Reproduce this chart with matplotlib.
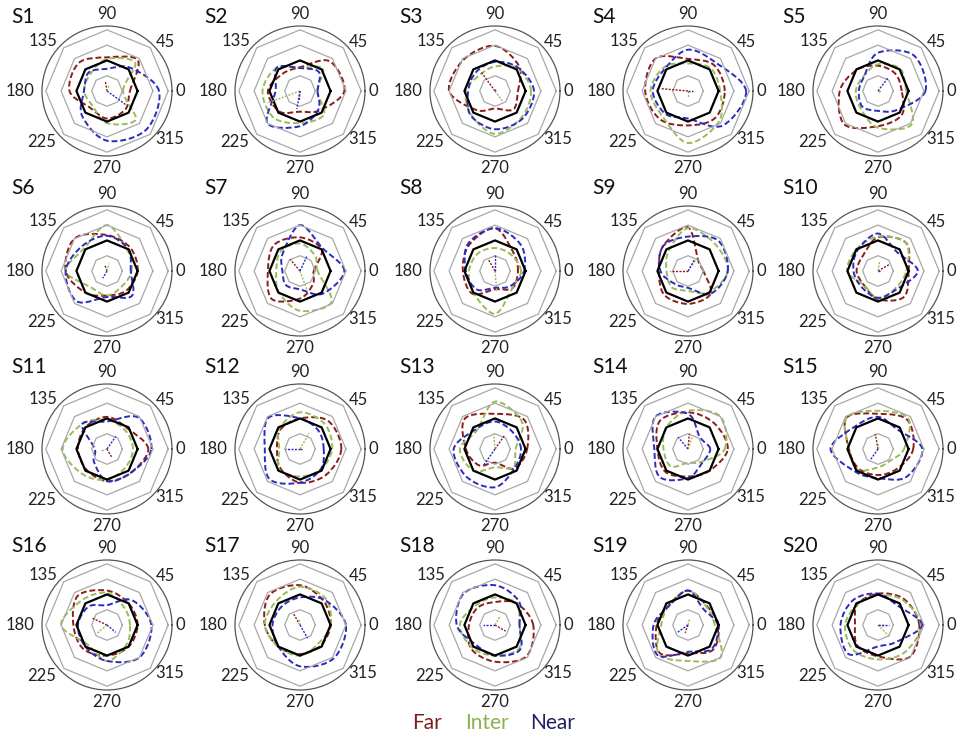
import numpy as np
import matplotlib.pyplot as plt
from matplotlib.path import Path
from matplotlib.patches import PathPatch

# directions (deg) and their labels
angles = [0, 45, 90, 135, 180, 225, 270, 315]
tick_labels = ['0', '45', '90', '135', '180', '225', '270', '315']
ring_levels = [1, 2, 3, 4]
ref_level = [2, 2, 2, 2, 2, 2, 2, 2]
names = ['S%d' % k for k in range(1, 21)]

far = [
    [1.5, 2.85, 2.2, 2.6, 2.45, 1.55, 1.8, 1.7],
    [2.9, 2.75, 1.55, 1.6, 2.1, 1.9, 1.35, 1.8],
    [1.5, 2.25, 2.95, 2.9, 3.0, 1.75, 1.15, 1.7],
    [2.4, 2.4, 2.1, 3.0, 2.8, 2.6, 2.25, 2.5],
    [1.55, 1.6, 1.65, 1.95, 2.5, 3.1, 2.3, 2.2],
    [2.0, 2.15, 2.35, 3.0, 2.7, 2.0, 1.6, 1.8],
    [0.9, 2.0, 2.2, 2.4, 2.1, 2.6, 1.8, 1.2],
    [1.5, 1.7, 2.8, 2.4, 2.1, 2.1, 1.2, 1.6],
    [1.0, 0.95, 2.85, 2.3, 1.9, 2.2, 2.15, 2.1],
    [2.0, 2.6, 2.2, 1.4, 1.4, 1.3, 1.85, 2.4],
    [2.7, 1.9, 2.1, 2.0, 1.9, 1.9, 2.1, 2.2],
    [2.7, 2.6, 2.0, 1.8, 1.5, 1.8, 2.2, 2.4],
    [2.1, 2.7, 2.3, 2.8, 1.9, 1.5, 0.9, 1.8],
    [2.6, 2.4, 2.4, 2.6, 2.0, 2.1, 1.8, 2.0],
    [2.3, 2.7, 2.3, 2.9, 1.9, 1.8, 1.7, 1.8],
    [2.0, 2.0, 2.25, 2.7, 2.2, 2.2, 2.0, 2.0],
    [2.0, 2.2, 2.6, 2.8, 2.3, 2.0, 1.9, 1.9],
    [2.5, 2.0, 1.5, 1.6, 1.7, 2.2, 2.4, 2.9],
    [2.0, 1.75, 2.25, 1.8, 2.05, 2.6, 1.85, 2.3],
    [2.7, 2.4, 2.05, 1.9, 1.5, 1.9, 2.05, 2.95],
]
inter = [
    [1.05, 2.6, 2.1, 1.55, 1.5, 1.35, 2.1, 2.65],
    [1.15, 2.1, 1.5, 2.15, 2.45, 2.45, 2.1, 2.2],
    [2.35, 2.1, 1.6, 1.45, 1.9, 2.2, 2.8, 2.45],
    [2.1, 2.1, 1.8, 2.2, 2.45, 2.35, 3.4, 2.85],
    [1.85, 2.05, 1.75, 1.35, 1.45, 1.6, 2.4, 3.1],
    [1.6, 1.9, 3.0, 2.1, 2.7, 1.5, 1.6, 1.4],
    [1.15, 1.4, 1.8, 1.8, 1.55, 1.95, 2.6, 2.9],
    [1.7, 1.5, 1.5, 1.6, 1.7, 2.0, 2.8, 1.6],
    [2.6, 2.5, 2.8, 1.8, 1.4, 1.5, 1.3, 1.95],
    [1.85, 2.6, 2.25, 2.0, 2.0, 1.3, 1.8, 1.6],
    [1.7, 1.7, 1.9, 2.3, 2.9, 2.3, 2.0, 1.7],
    [2.1, 2.3, 2.4, 1.9, 1.35, 1.9, 1.8, 1.9],
    [1.35, 2.5, 3.1, 1.7, 2.3, 2.0, 1.2, 1.7],
    [2.4, 3.0, 2.5, 2.0, 1.6, 1.6, 0.9, 1.2],
    [1.7, 2.8, 2.5, 2.9, 1.9, 1.9, 1.2, 1.1],
    [1.5, 1.6, 2.1, 2.3, 3.0, 1.8, 2.35, 1.8],
    [2.0, 2.4, 2.5, 2.2, 2.3, 2.0, 2.0, 1.7],
    [1.6, 2.0, 1.8, 1.8, 2.3, 2.1, 2.0, 2.2],
    [1.75, 1.7, 2.25, 1.8, 1.75, 2.7, 2.35, 3.0],
    [2.8, 2.3, 1.95, 1.9, 2.15, 2.3, 2.25, 2.5],
]
near = [
    [3.4, 2.15, 1.45, 1.7, 1.5, 2.3, 3.25, 3.6],
    [1.15, 1.75, 1.5, 2.15, 1.6, 3.0, 2.3, 1.7],
    [2.55, 2.15, 1.9, 1.75, 1.75, 2.25, 2.5, 2.55],
    [3.8, 2.6, 2.7, 2.1, 2.3, 2.1, 1.8, 3.2],
    [3.1, 3.3, 2.5, 1.3, 1.25, 1.45, 1.3, 1.75],
    [1.55, 2.0, 2.3, 2.3, 2.7, 2.8, 1.7, 2.3],
    [2.9, 2.1, 3.0, 1.6, 1.15, 1.3, 1.2, 2.1],
    [1.9, 2.4, 2.8, 2.5, 1.9, 1.7, 1.1, 1.4],
    [2.6, 2.8, 2.25, 2.3, 1.8, 1.2, 1.1, 2.1],
    [2.6, 1.75, 2.45, 1.9, 1.6, 1.5, 1.75, 1.7],
    [2.9, 2.9, 1.8, 2.3, 0.8, 1.2, 2.1, 2.2],
    [1.55, 1.7, 2.0, 2.9, 2.3, 2.8, 2.2, 1.9],
    [1.7, 1.6, 1.8, 1.8, 2.7, 2.6, 2.5, 1.8],
    [1.45, 1.1, 2.3, 3.0, 2.2, 2.6, 1.9, 1.3],
    [2.9, 1.8, 2.1, 2.1, 3.1, 2.1, 1.9, 2.6],
    [2.9, 2.3, 1.3, 1.7, 1.9, 2.0, 2.35, 3.0],
    [3.0, 2.3, 1.8, 1.7, 1.8, 2.0, 2.7, 3.1],
    [1.6, 2.2, 2.6, 2.9, 2.5, 1.8, 2.0, 2.3],
    [1.95, 1.45, 2.25, 1.75, 2.25, 2.8, 1.75, 2.2],
    [2.9, 1.8, 2.05, 2.3, 2.45, 2.7, 1.4, 1.6],
]

# mean direction vectors (angle in deg, length)
far_vec_ang = [100, 265, 126, 175, 0, 110, 130, 120, 180, 30, 300, 0, 55, 85, 100, 155, 120, 330, 250, 0]
far_vec_len = [0.65, 0.6, 1.55, 1.8, 0.1, 0.45, 1.0, 0.9, 1.2, 0.9, 0.6, 0.2, 1.1, 1.0, 1.0, 1.05, 0.9, 0.8, 0.55, 0.45]
inter_vec_ang = [70, 200, 306, 270, 0, 75, 290, 275, 55, 80, 200, 60, 95, 70, 90, 220, 100, 60, 75, 315]
inter_vec_len = [0.45, 2.3, 0.8, 0.4, 0.15, 0.5, 1.4, 1.3, 1.0, 0.6, 0.4, 1.2, 1.0, 0.8, 0.3, 0.9, 0.4, 0.7, 0.45, 1.05]
near_vec_ang = [324, 260, 45, 0, 53, 240, 65, 90, 60, 0, 55, 180, 235, 130, 235, 320, 300, 180, 215, 0]
near_vec_len = [1.5, 1.2, 0.1, 0.3, 1.05, 0.55, 1.1, 1.1, 0.85, 0.2, 1.0, 0.95, 1.3, 1.0, 0.85, 0.75, 1.0, 0.8, 0.9, 0.75]

far_col = '#8b1c1c'
inter_col = '#9bbb59'
near_col = '#2b2bc0'

plt.rcParams['font.family'] = ['Lato', 'DejaVu Sans']


def smooth_radar(vals):
    # closed bezier curve through the points (like excel's smoothed line),
    # control points given back in (theta, r) so the polar transform maps them
    t = np.deg2rad(angles)
    v = np.array(vals, dtype=float)
    p = np.column_stack([v * np.cos(t), v * np.sin(t)])
    n = len(p)
    to_pol = lambda q: (np.arctan2(q[1], q[0]), np.hypot(q[0], q[1]))
    verts = [to_pol(p[0])]
    codes = [Path.MOVETO]
    for k in range(n):
        p0, p1, p2, p3 = p[k - 1], p[k], p[(k + 1) % n], p[(k + 2) % n]
        c1 = p1 + (p2 - p0) / 6
        c2 = p2 - (p3 - p1) / 6
        verts += [to_pol(c1), to_pol(c2), to_pol(p2)]
        codes += [Path.CURVE4] * 3
    return Path(verts, codes)


W, H = 957, 738
fig = plt.figure(figsize=(W / 100, H / 100), dpi=100)

col_x = [107, 300, 495, 688, 878]
row_y = [91, 271, 449, 625]
title_y = [17, 188, 367, 546]
rad = 65
rmax = 4.25

th = np.deg2rad(angles + angles[:1])
ha_map = {0: 'left', 45: 'left', 90: 'center', 135: 'right', 180: 'right',
          225: 'right', 270: 'center', 315: 'left'}
va_map = {0: 'center', 45: 'center', 90: 'bottom', 135: 'center', 180: 'center',
          225: 'center', 270: 'top', 315: 'center'}
lab_r = {0: 1.05, 45: 1.06, 90: 1.06, 135: 1.08, 180: 1.12, 225: 1.1, 270: 1.06, 315: 1.05}

for i in range(20):
    r, c = divmod(i, 5)
    cx, cy = col_x[c], row_y[r]
    ax = fig.add_axes([(cx - rad) / W, 1 - (cy + rad) / H, 2 * rad / W, 2 * rad / H],
                      projection='polar')
    ax.set_ylim(0, rmax)
    ax.set_xticks([])
    ax.set_yticks([])
    ax.grid(False)
    ax.spines['polar'].set_color('#555555')
    ax.spines['polar'].set_linewidth(0.9)

    for lv in ring_levels:
        ax.plot(th, [lv] * len(th), color='#a8a8a8', lw=0.9)
    ax.plot(th, ref_level + ref_level[:1], color='black', lw=1.6)

    series = [(far[i], far_vec_ang[i], far_vec_len[i], far_col),
              (inter[i], inter_vec_ang[i], inter_vec_len[i], inter_col),
              (near[i], near_vec_ang[i], near_vec_len[i], near_col)]
    for vals, va, vl, col in series:
        ax.add_patch(PathPatch(smooth_radar(vals), fill=False, edgecolor=col,
                               lw=1.4, ls=(0, (3, 1.5)), transform=ax.transData))
        ax.plot([np.deg2rad(va)] * 2, [0, vl], color=col, lw=1.0, ls=(0, (1.5, 1)))

    for a, lab in zip(angles, tick_labels):
        ax.text(np.deg2rad(a), rmax * lab_r[a], lab, ha=ha_map[a], va=va_map[a],
                fontsize=12, color='#222222')

    fig.text((cx - 96) / W, 1 - title_y[r] / H, names[i], ha='left', va='center',
             fontsize=15, color='#111111')

fig.text(412 / W, 1 - 723 / H, 'Far', color='#7a1f1f', fontsize=15, ha='left', va='center')
fig.text(465 / W, 1 - 723 / H, 'Inter', color='#8cb24b', fontsize=15, ha='left', va='center')
fig.text(530 / W, 1 - 723 / H, 'Near', color='#1f2060', fontsize=15, ha='left', va='center')

fig.savefig('out.png', dpi=100)
